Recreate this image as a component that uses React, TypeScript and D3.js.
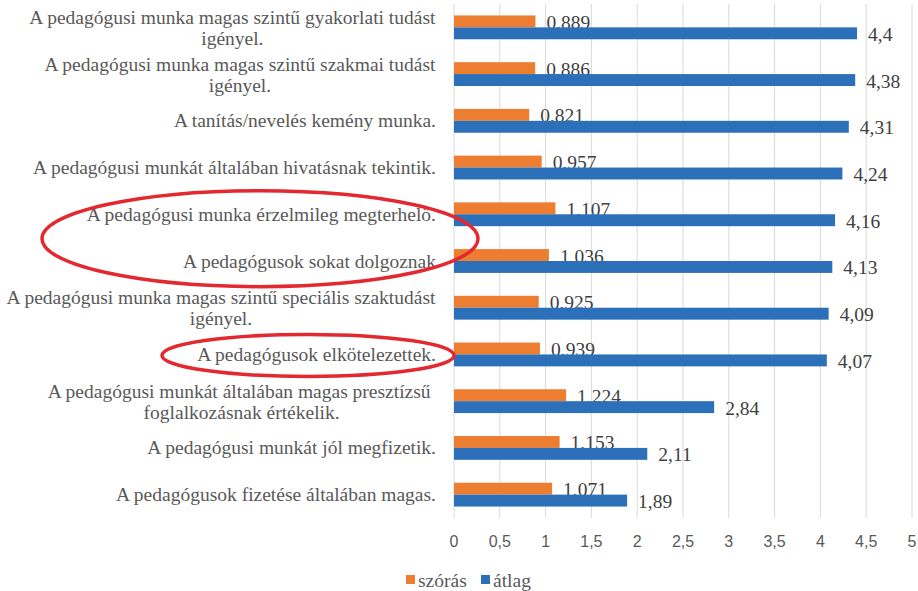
import React from 'react';
import * as d3 from 'd3';

// categories top to bottom, "\n" marks where the label wraps
const categories = [
  'A pedagógusi munka magas szintű gyakorlati tudást\nigényel.',
  'A pedagógusi munka magas szintű szakmai tudást\nigényel.',
  'A tanítás/nevelés kemény munka.',
  'A pedagógusi munkát általában hivatásnak tekintik.',
  'A pedagógusi munka érzelmileg megterhelő.',
  'A pedagógusok sokat dolgoznak',
  'A pedagógusi munka magas szintű speciális szaktudást\nigényel.',
  'A pedagógusok elkötelezettek.',
  'A pedagógusi munkát általában magas presztízsű \nfoglalkozásnak értékelik.',
  'A pedagógusi munkát jól megfizetik.',
  'A pedagógusok fizetése általában magas.',
];
const szoras = [0.889, 0.886, 0.821, 0.957, 1.107, 1.036, 0.925, 0.939, 1.224, 1.153, 1.071];
const atlag = [4.4, 4.38, 4.31, 4.24, 4.16, 4.13, 4.09, 4.07, 2.84, 2.11, 1.89];
const xTicks = [0, 0.5, 1, 1.5, 2, 2.5, 3, 3.5, 4, 4.5, 5];
const seriesNames = ['szórás', 'átlag'];
const seriesColors = ['#ED7D31', '#2B70B8'];
// rows circled in red on the original
const circledPairs = [[4, 5], [7, 7]];

const W = 918;
const H = 591;
const SERIF = 'Liberation Serif';
const SANS = 'Liberation Sans';
const FS = 19.5;
const fmt = (v: number) => String(v).replace('.', ',');

const serifText = { fontFamily: SERIF, fontSize: `${FS}px`, whiteSpace: 'pre' as const };

// measure a label line so wrapped lines can be centred under each other
let ctx: CanvasRenderingContext2D | null = null;
function textWidth(s: string) {
  if (!ctx) ctx = document.createElement('canvas').getContext('2d');
  if (!ctx) return s.length * 8;
  ctx.font = `${FS}px "${SERIF}"`;
  return ctx.measureText(s).width;
}

export default function App() {
  const x = d3.scaleLinear().domain([0, 5]).range([454, 912]);
  const y = d3.scaleBand<number>()
    .domain(categories.map((_, i) => i))
    .range([4, 518])
    .paddingInner(0.49)
    .paddingOuter(0.245);
  const sub = d3.scaleBand<string>().domain(seriesNames).range([0, y.bandwidth()]);
  const series = [szoras, atlag];
  const rowMid = (i: number) => (y(i) as number) + y.bandwidth() / 2;
  const labelRight = 436;

  const ellipseSizes = [[260, 218, 48], [308, 146, 21]];
  const legendX = [406, 481];

  return (
    <svg width={W} height={H} style={{ position: 'absolute', left: 0, top: 0, background: '#fff' }}>
      {/* gridlines */}
      <g>
        {xTicks.map(t => (
          <line key={t} x1={x(t)} x2={x(t)} y1={4} y2={518} stroke="#D9D9D9" strokeWidth={1} />
        ))}
      </g>

      {/* tick labels */}
      <g>
        {xTicks.map(t => (
          <text key={t} x={x(t)} y={541} textAnchor="middle" dominantBaseline="central"
            fill="#595959" style={{ fontFamily: SANS, fontSize: '16px' }}>
            {fmt(t)}
          </text>
        ))}
      </g>

      {/* bars and value labels */}
      {series.map((vals, s) => (
        <g key={seriesNames[s]}>
          {vals.map((v, i) => {
            const top = (y(i) as number) + (sub(seriesNames[s]) as number);
            return (
              <g key={i}>
                <rect x={x(0)} y={top} width={x(v) - x(0)} height={sub.bandwidth()} fill={seriesColors[s]} />
                <text x={x(v) + 11} y={top + sub.bandwidth() / 2 + 1} dominantBaseline="central"
                  fill="#404040" style={serifText}>
                  {fmt(v)}
                </text>
              </g>
            );
          })}
        </g>
      ))}

      {/* category labels */}
      <g>
        {categories.map((c, i) => {
          const lines = c.split('\n');
          if (lines.length === 1) {
            return (
              <text key={i} x={labelRight} y={rowMid(i)} textAnchor="end" dominantBaseline="central"
                fill="#595959" style={serifText}>
                {c}
              </text>
            );
          }
          const widest = Math.max(...lines.map(textWidth));
          return (
            <text key={i} textAnchor="middle" dominantBaseline="central" fill="#595959" style={serifText}>
              {lines.map((l, k) => (
                <tspan key={k} x={labelRight - widest / 2} y={rowMid(i) + (k - (lines.length - 1) / 2) * 21}>
                  {l}
                </tspan>
              ))}
            </text>
          );
        })}
      </g>

      {/* red annotation ellipses */}
      {circledPairs.map(([a, b], k) => {
        const [cx, rx, ry] = ellipseSizes[k];
        return (
          <ellipse key={k} cx={cx} cy={(rowMid(a) + rowMid(b)) / 2 + 1} rx={rx} ry={ry}
            fill="none" stroke="#E3282F" strokeWidth={3.5} />
        );
      })}

      {/* legend */}
      <g>
        {seriesNames.map((n, s) => (
          <g key={n}>
            <rect x={legendX[s]} y={575} width={9} height={9} fill={seriesColors[s]} />
            <text x={legendX[s] + 12} y={580} dominantBaseline="central" fill="#595959" style={serifText}>
              {n}
            </text>
          </g>
        ))}
      </g>
    </svg>
  );
}
